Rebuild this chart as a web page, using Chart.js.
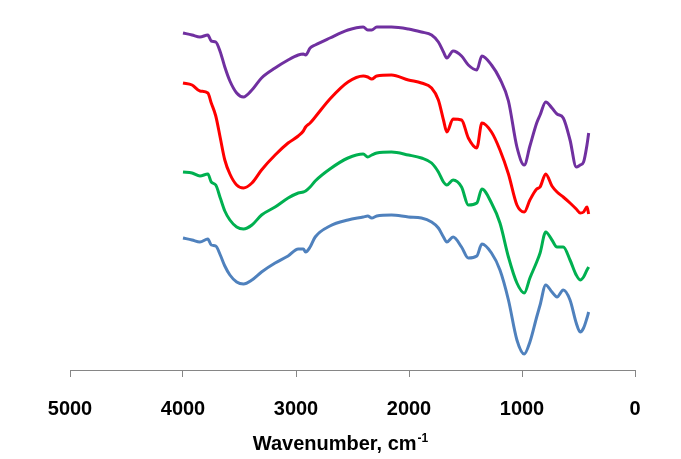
<!DOCTYPE html>
<html>
<head>
<meta charset="utf-8">
<script src="https://cdn.jsdelivr.net/npm/chart.js@4/dist/chart.umd.min.js"></script>
<style>
  html, body { margin: 0; padding: 0; background: #fff; }
  #wrap { width: 681px; height: 459px; position: relative; }
</style>
</head>
<body>
<div id="wrap"><canvas id="ftir"></canvas></div>
<script>
// wavenumbers (cm-1) shared by all four spectra
const wavenumbers = [
  4000, 3920, 3850, 3780, 3750, 3710, 3670, 3630, 3585, 3525,
  3465, 3390, 3305, 3185, 3070, 2980, 2935, 2915, 2875, 2830,
  2700, 2540, 2405, 2365, 2330, 2285, 2155, 2005, 1890, 1800,
  1740, 1695, 1665, 1610, 1535, 1475, 1400, 1355, 1270, 1195,
  1120, 1045, 980, 930, 870, 840, 790, 735, 690, 635,
  575, 520, 485, 455, 425, 410
];

// transmittance, offset per sample (a.u.)
const purpleT = [
  33.7, 33.5, 33.3, 33.5, 32.9, 32.8, 31.8, 30.3, 28.9, 27.7,
  27.3, 28.0, 29.2, 30.2, 31.0, 31.5, 31.6, 31.5, 32.2, 32.5,
  33.2, 34.0, 34.3, 34.0, 34.0, 34.3, 34.3, 34.1, 33.8, 33.5,
  32.8, 31.8, 31.2, 31.9, 31.4, 30.5, 30.0, 31.4, 30.5, 29.1,
  26.9, 22.3, 20.5, 22.4, 24.7, 25.5, 26.8, 26.2, 25.6, 25.2,
  23.0, 20.3, 20.5, 20.8, 22.5, 23.7
];
const redT = [
  28.7, 28.5, 27.9, 27.7, 26.7, 25.4, 23.2, 21.0, 19.6, 18.5,
  18.2, 18.7, 20.0, 21.5, 22.7, 23.4, 23.9, 24.3, 24.7, 25.3,
  27.1, 28.8, 29.4, 29.3, 29.1, 29.4, 29.5, 29.0, 28.7, 28.2,
  27.0, 25.0, 23.8, 25.1, 25.0, 23.2, 22.2, 24.7, 23.8, 22.0,
  19.6, 16.5, 15.8, 17.0, 18.1, 18.3, 19.6, 18.4, 17.8, 17.3,
  16.7, 16.1, 15.7, 15.8, 16.3, 15.6
];
const greenT = [
  19.8, 19.7, 19.4, 19.6, 18.8, 18.5, 17.2, 15.9, 15.0, 14.3,
  14.1, 14.5, 15.5, 16.3, 17.2, 17.7, 17.8, 17.9, 18.3, 18.9,
  20.1, 21.2, 21.6, 21.3, 21.5, 21.7, 21.8, 21.5, 21.2, 20.7,
  19.8, 18.8, 18.5, 19.0, 18.3, 16.5, 16.7, 18.1, 16.7, 14.7,
  11.3, 8.7, 7.7, 9.2, 10.8, 11.7, 13.8, 13.0, 12.3, 12.3,
  11.0, 9.5, 9.0, 9.3, 10.0, 10.3
];
const blueT = [
  13.2, 13.0, 12.8, 13.1, 12.5, 12.4, 11.5, 10.4, 9.5, 8.8,
  8.6, 9.0, 9.8, 10.7, 11.4, 12.1, 12.1, 11.8, 12.3, 13.3,
  14.4, 15.0, 15.3, 15.4, 15.2, 15.4, 15.5, 15.3, 15.2, 14.8,
  14.2, 13.3, 12.8, 13.3, 12.3, 11.2, 11.4, 12.6, 11.7, 10.0,
  7.0, 3.0, 1.6, 2.8, 5.3, 6.5, 8.5, 7.8, 7.3, 8.0,
  7.0, 4.7, 3.8, 4.2, 5.2, 5.8
];

const xTicks = [5000, 4000, 3000, 2000, 1000, 0];
const axisTitle = 'Wavenumber, cm';
const axisTitleSup = '-1';

function toPoints(vals) {
  return vals.map((v, i) => ({ x: wavenumbers[i], y: v }));
}

function spectrum(label, vals, color) {
  return {
    label,
    data: toPoints(vals),
    borderColor: color,
    backgroundColor: color,
    borderWidth: 3,
    pointRadius: 0,
    tension: 0.35,
    cubicInterpolationMode: 'monotone',
    fill: false,
  };
}

// axis title with a real superscript
const titlePlugin = {
  id: 'xTitle',
  afterDraw(chart) {
    const { ctx } = chart;
    ctx.save();
    ctx.fillStyle = '#000';
    ctx.textBaseline = 'alphabetic';
    ctx.font = 'bold 20px "Liberation Sans", Arial, sans-serif';
    const w1 = ctx.measureText(axisTitle).width;
    ctx.font = 'bold 12px "Liberation Sans", Arial, sans-serif';
    const w2 = ctx.measureText(axisTitleSup).width;
    const x0 = 340 - (w1 + w2) / 2;
    const base = chart.chartArea.bottom + 80;
    ctx.font = 'bold 20px "Liberation Sans", Arial, sans-serif';
    ctx.fillText(axisTitle, x0, base);
    ctx.font = 'bold 12px "Liberation Sans", Arial, sans-serif';
    ctx.fillText(axisTitleSup, x0 + w1 + 1, base - 8);
    ctx.restore();
  },
};

new Chart(document.getElementById('ftir'), {
  type: 'line',
  data: {
    datasets: [
      spectrum('A', purpleT, '#7030A0'),
      spectrum('B', redT, '#FF0000'),
      spectrum('C', greenT, '#00B050'),
      spectrum('D', blueT, '#4F81BD'),
    ],
  },
  options: {
    responsive: true,
    maintainAspectRatio: false,
    animation: false,
    layout: { padding: { left: 70, right: 46, top: 10, bottom: 0 } },
    plugins: {
      legend: { display: false },
      tooltip: { enabled: false },
    },
    scales: {
      x: {
        type: 'linear',
        reverse: true,
        min: 0,
        max: 5000,
        afterBuildTicks: (scale) => {
          scale.ticks = xTicks.map((v) => ({ value: v }));
        },
        afterFit: (scale) => {
          scale.height = 89;
        },
        border: { display: true, color: '#868686', width: 1 },
        grid: {
          drawOnChartArea: false,
          drawTicks: true,
          tickLength: 7,
          color: '#868686',
        },
        ticks: {
          color: '#000',
          padding: 20,
          maxRotation: 0,
          callback: (v) => String(v),
          font: { family: '"Liberation Sans", Arial, sans-serif', size: 20, weight: 'bold' },
        },
      },
      y: {
        display: false,
        min: 0,
        max: 36,
      },
    },
  },
  plugins: [titlePlugin],
});
</script>
</body>
</html>
